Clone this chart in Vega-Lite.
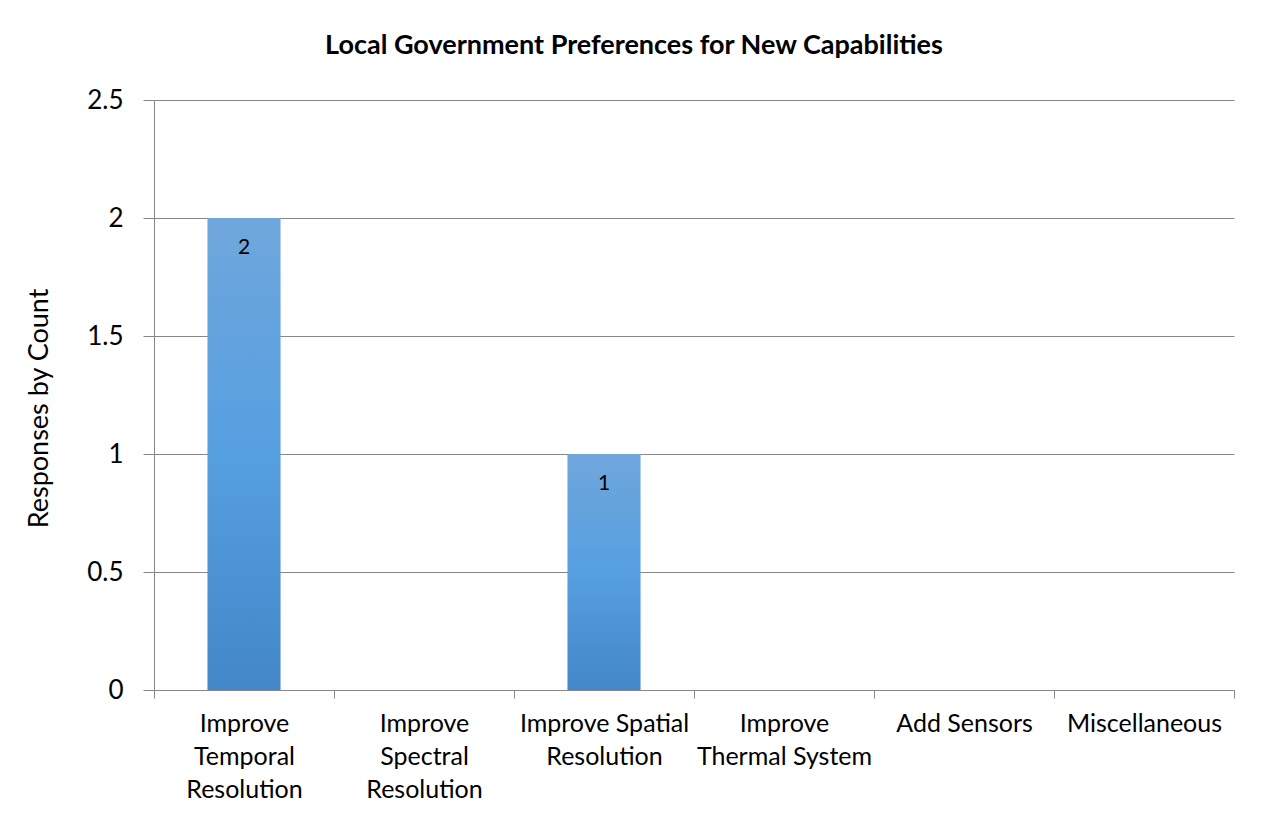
{
  "$schema": "https://vega.github.io/schema/vega-lite/v6.json",
  "autosize": {"type": "none"},
  "width": 1080,
  "height": 590,
  "padding": {"left": 154, "top": 100, "right": 29, "bottom": 127},
  "background": "white",
  "title": {
    "text": "Local Government Preferences for New Capabilities",
    "font": "Lato",
    "fontSize": 27,
    "fontWeight": "bold",
    "color": "#000000",
    "anchor": "middle",
    "dx": -60,
    "offset": 27
  },
  "data": {
    "values": [
      {"capability": "Improve Temporal Resolution", "count": 2},
      {"capability": "Improve Spectral Resolution", "count": 0},
      {"capability": "Improve Spatial Resolution", "count": 1},
      {"capability": "Improve Thermal System", "count": 0},
      {"capability": "Add Sensors", "count": 0},
      {"capability": "Miscellaneous", "count": 0}
    ]
  },
  "config": {
    "view": {"stroke": null},
    "font": "Lato"
  },
  "encoding": {
    "x": {
      "field": "capability",
      "type": "nominal",
      "sort": null,
      "scale": {"paddingInner": 0, "paddingOuter": 0},
      "axis": {
        "title": null,
        "labelAngle": 0,
        "labelFont": "Lato",
        "labelFontSize": 25,
        "labelColor": "#000000",
        "labelLineHeight": 33,
        "labelPadding": 13,
        "labelBaseline": "top",
        "tickBand": "extent",
        "tickSize": 8,
        "tickColor": "#878787",
        "domainColor": "#878787",
        "labelExpr": "datum.value == 'Improve Temporal Resolution' ? ['Improve','Temporal','Resolution'] : datum.value == 'Improve Spectral Resolution' ? ['Improve','Spectral','Resolution'] : datum.value == 'Improve Spatial Resolution' ? ['Improve Spatial','Resolution'] : datum.value == 'Improve Thermal System' ? ['Improve','Thermal System'] : datum.value"
      }
    },
    "y": {
      "field": "count",
      "type": "quantitative",
      "scale": {"domain": [0, 2.5], "nice": false},
      "axis": {
        "title": "Responses by Count",
        "titleFont": "Lato",
        "titleFontSize": 27,
        "titleFontWeight": "normal",
        "titleColor": "#000000",
        "titlePadding": 33,
        "titleY": 308,
        "values": [0, 0.5, 1, 1.5, 2, 2.5],
        "format": "~g",
        "labelFont": "Lato",
        "labelFontSize": 26,
        "labelColor": "#000000",
        "labelPadding": 20,
        "tickSize": 11,
        "tickColor": "#878787",
        "domainColor": "#878787",
        "gridColor": "#878787",
        "grid": true
      }
    }
  },
  "layer": [
    {
      "mark": {
        "type": "bar",
        "width": {"band": 0.406},
        "color": {
          "gradient": "linear",
          "x1": 0, "y1": 0, "x2": 0, "y2": 1,
          "stops": [
            {"offset": 0, "color": "#6fa7dc"},
            {"offset": 0.5, "color": "#569fe1"},
            {"offset": 1, "color": "#4387c8"}
          ]
        }
      }
    },
    {
      "transform": [{"filter": "datum.count > 0"}],
      "mark": {"type": "text", "baseline": "middle", "dy": 30, "fontSize": 21, "font": "Lato", "color": "#000000"},
      "encoding": {"text": {"field": "count", "type": "quantitative"}}
    }
  ]
}
